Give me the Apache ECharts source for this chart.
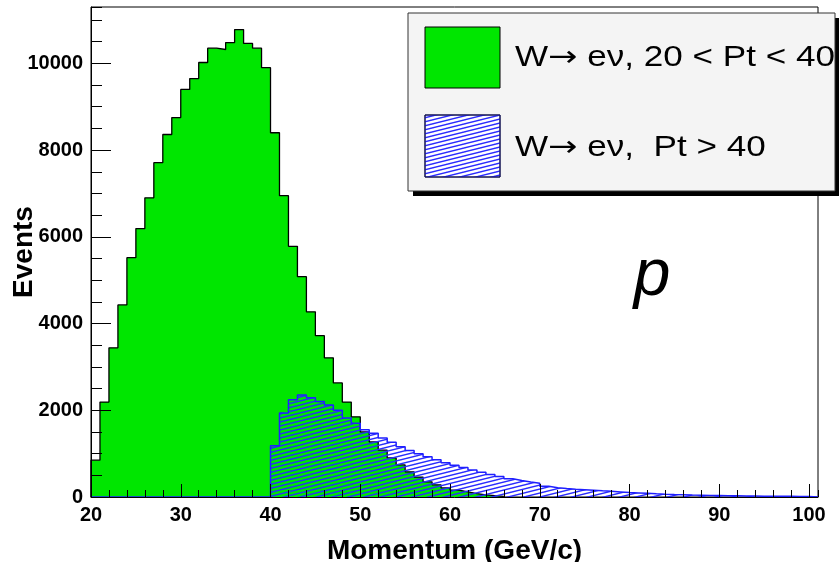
<!DOCTYPE html>
<html>
<head>
<meta charset="utf-8">
<title>Momentum</title>
<script src="https://cdn.jsdelivr.net/npm/echarts@6/dist/echarts.min.js"></script>
<style>
	html, body { margin: 0; padding: 0; background: #fff; }
	#momentum_chart { width: 839px; height: 562px; }
</style>
</head>
<body>
<div id="momentum_chart"></div>
<script>
// 1 GeV bins, counts
var xMin = 20;
var xMax = 101;
var yMax = 11300;

// W -> e nu, 20 < Pt < 40  (bins 20..65)
var greenStart = 20;
var greenCounts = [850, 2190, 3440, 4430, 5520, 6190, 6900, 7710, 8360, 8750,
	9400, 9650, 10020, 10350, 10320, 10480, 10780, 10460, 10350, 9900,
	8400, 6950, 5780, 5080, 4270, 3720, 3210, 2630, 2190, 1850,
	1500, 1270, 1080, 900, 740, 580, 460, 350, 280, 210,
	160, 120, 80, 50, 30, 15];

// W -> e nu, Pt > 40  (bins 40..99)
var blueStart = 40;
var blueCounts = [1180, 1940, 2240, 2350, 2290, 2200, 2120, 2000, 1820, 1700,
	1550, 1470, 1360, 1260, 1160, 1070, 1000, 930, 860, 790,
	730, 680, 620, 570, 520, 470, 420, 380, 345, 315,
	250, 215, 195, 180, 168, 155, 142, 130, 118, 105,
	95, 85, 75, 66, 58, 52, 46, 41, 36, 32,
	28, 26, 24, 22, 20, 18, 16, 15, 13, 12];

var xTickLabels = [20, 30, 40, 50, 60, 70, 80, 90, 100];
var yTickLabels = [0, 2000, 4000, 6000, 8000, 10000];
var legendNames = ["W\u2192 e\u03bd, 20 < Pt < 40", "W\u2192 e\u03bd,  Pt > 40"];

var fontName = "Liberation Sans";
var greenColor = "#00e600";
var blueColor = "#1f1fff";

// histogram outline as [x, y] points for a step line
function stepData(from, start, counts, to) {
	var data = [[from, 0], [start, 0]];
	for (var i = 0; i < counts.length; i++) {
		data.push([start + i, counts[i]]);
	}
	data.push([start + counts.length, 0]);
	if (to > start + counts.length) {
		data.push([to, 0]);
	}
	return data;
}

// hatch fill for the Pt > 40 histogram
function hatchCanvas() {
	var c = document.createElement("canvas");
	c.width = 16;
	c.height = 4;
	var ctx = c.getContext("2d");
	ctx.strokeStyle = "#2a2aff";
	ctx.lineWidth = 1.4;
	for (var k = -1; k <= 1; k++) {
		ctx.beginPath();
		ctx.moveTo(0, 4 + 4 * k);
		ctx.lineTo(16, 4 * k);
		ctx.stroke();
	}
	return c;
}

// legend text: arrow taken from DejaVu, the rest Liberation
function legendText(name) {
	var parts = name.split("\u2192");
	return "{t|" + parts[0] + "}{a|\u2192}{t|" + parts[1] + "}";
}

var hatch = { image: hatchCanvas(), repeat: "repeat" };
var labelStyle = { color: "#000", fontSize: 20, fontWeight: "bold", fontFamily: fontName };
var titleStyle = { color: "#000", fontSize: 28, fontWeight: "bold", fontFamily: fontName };
var legendRich = {
	t: { fontSize: 29, fontFamily: fontName, fill: "#000", color: "#000" },
	a: { fontSize: 29, fontFamily: "DejaVu Sans", fill: "#000", color: "#000" }
};

var myChart = echarts.init(document.getElementById("momentum_chart"), null, { renderer: "canvas" });
var option = {
	animation: false,
	backgroundColor: "#fff",
	grid: {
		left: 91, right: 21, top: 7, bottom: 65,
		outerBoundsMode: "none", containLabel: false,
		show: true, borderColor: "#000", borderWidth: 1, backgroundColor: "transparent"
	},
	xAxis: [{
		type: "value", min: xMin, max: xMax, interval: 10, z: 10,
		axisLine: { show: true, lineStyle: { color: "#000", width: 1 } },
		axisTick: { show: true, inside: true, length: 13, lineStyle: { color: "#000", width: 1 } },
		axisLabel: Object.assign({
			margin: 8, showMaxLabel: false,
			formatter: function(v) { return xTickLabels.indexOf(v) >= 0 ? String(v) : ""; }
		}, labelStyle),
		splitLine: { show: false },
		name: "Momentum (GeV/c)", nameLocation: "middle", nameGap: 40, nameMoveOverlap: false,
		nameTextStyle: titleStyle
	}, {
		// minor ticks every 2 GeV
		type: "value", min: xMin, max: xMax, interval: 2, position: "bottom", z: 10,
		axisLine: { show: false },
		axisTick: { show: true, inside: true, length: 7, lineStyle: { color: "#000", width: 1 } },
		axisLabel: { show: false },
		splitLine: { show: false }
	}],
	yAxis: [{
		type: "value", min: 0, max: yMax, interval: 2000, z: 10,
		axisLine: { show: true, lineStyle: { color: "#000", width: 1 } },
		axisTick: { show: true, inside: true, length: 20, lineStyle: { color: "#000", width: 1 } },
		axisLabel: Object.assign({
			margin: 8, showMaxLabel: false,
			formatter: function(v) { return yTickLabels.indexOf(v) >= 0 ? String(v) : ""; }
		}, labelStyle),
		splitLine: { show: false },
		name: "Events", nameLocation: "middle", nameGap: 53, nameMoveOverlap: false,
		nameTextStyle: titleStyle
	}, {
		// minor ticks every 500
		type: "value", min: 0, max: yMax, interval: 500, position: "left", z: 10,
		axisLine: { show: false },
		axisTick: { show: true, inside: true, length: 11, lineStyle: { color: "#000", width: 1 } },
		axisLabel: { show: false },
		splitLine: { show: false }
	}],
	series: [{
		name: legendNames[0],
		type: "line", step: "end", symbol: "none", z: 2,
		xAxisIndex: 0, yAxisIndex: 0,
		data: stepData(greenStart, greenStart, greenCounts, greenStart + greenCounts.length),
		lineStyle: { color: "#000", width: 1.3 },
		areaStyle: { color: greenColor, opacity: 1 }
	}, {
		name: legendNames[1],
		type: "line", step: "end", symbol: "none", z: 3,
		xAxisIndex: 0, yAxisIndex: 0,
		data: stepData(xMin, blueStart, blueCounts, xMax),
		lineStyle: { color: blueColor, width: 1.5 },
		areaStyle: { color: hatch, opacity: 1 }
	}],
	graphic: [
		// legend box with shadow
		{ type: "rect", z: 100, shape: { x: 413, y: 18, width: 430, height: 178 }, style: { fill: "#000" } },
		{ type: "rect", z: 101, shape: { x: 408, y: 13, width: 427, height: 178 }, style: { fill: "#f4f4f4", stroke: "#333", lineWidth: 1 } },
		{ type: "rect", z: 102, shape: { x: 425, y: 27, width: 75, height: 61 }, style: { fill: greenColor, stroke: "#000", lineWidth: 1 } },
		{ type: "rect", z: 102, shape: { x: 425, y: 115, width: 75, height: 62 }, style: { fill: "#fff", stroke: "#101050", lineWidth: 1 } },
		{ type: "rect", z: 103, shape: { x: 425, y: 115, width: 75, height: 62 }, style: { fill: hatch, stroke: "#101050", lineWidth: 1 } },
		{
			type: "text", z: 104, x: 515, y: 58, scaleX: 1.21,
			style: { text: legendText(legendNames[0]), rich: legendRich, fill: "#000", font: "29px '" + fontName + "'", align: "left", verticalAlign: "middle", textAlign: "left", textVerticalAlign: "middle" }
		},
		{
			type: "text", z: 104, x: 515, y: 148, scaleX: 1.21,
			style: { text: legendText(legendNames[1]), rich: legendRich, fill: "#000", font: "29px '" + fontName + "'", align: "left", verticalAlign: "middle", textAlign: "left", textVerticalAlign: "middle" }
		},
		// particle label
		{
			type: "text", z: 104, x: 652, y: 277,
			style: { text: "p", fill: "#000", font: "italic 66px '" + fontName + "'", align: "center", verticalAlign: "middle", textAlign: "center", textVerticalAlign: "middle" }
		}
	]
};
myChart.setOption(option, true);
</script>
</body>
</html>
